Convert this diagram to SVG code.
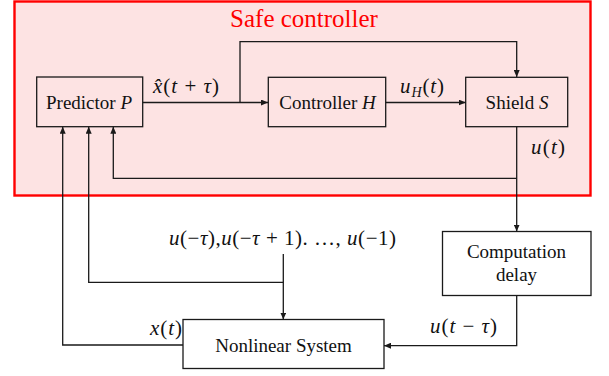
<svg xmlns="http://www.w3.org/2000/svg" width="609" height="376" viewBox="0 0 609 376">
<defs>
<style>
.box{fill:none;stroke:#1a1a1a;stroke-width:1.3}
.wbox{fill:#ffffff;stroke:#1a1a1a;stroke-width:1.3}
.ln{fill:none;stroke:#1a1a1a;stroke-width:1.3}
.t{font-family:'Liberation Serif','DejaVu Serif',serif;font-size:19px;fill:#111;text-anchor:middle}
.m{font-family:'Liberation Serif','DejaVu Serif',serif;font-size:21px;fill:#111}
.i{font-style:italic}
</style>
<marker id="ah" markerWidth="7" markerHeight="6" refX="7" refY="3" orient="auto" markerUnits="userSpaceOnUse">
<path d="M0,0 L7,3 L0,6 z" fill="#1a1a1a"/>
</marker>
</defs>
<rect width="609" height="376" fill="#ffffff"/>
<g id="safe-controller">
<rect x="14.5" y="1.5" width="576" height="194" fill="#fde3e3" stroke="#ff0000" stroke-width="2.4"/>
<text x="304" y="27" font-family="Liberation Serif, DejaVu Serif, serif" font-size="25" fill="#ff0000" text-anchor="middle">Safe controller</text>
</g>
<g id="predictor">
<rect class="box" x="36.7" y="77" width="106" height="49.7"/>
<text class="t" x="89" y="109">Predictor <tspan class="i">P</tspan></text>
</g>
<g id="controller">
<rect class="box" x="268.3" y="77.3" width="117.4" height="49.4"/>
<text class="t" x="327.5" y="109">Controller <tspan class="i">H</tspan></text>
</g>
<g id="shield">
<rect class="box" x="465.7" y="77.3" width="102" height="49.4"/>
<text class="t" x="517" y="109">Shield <tspan class="i">S</tspan></text>
</g>
<g id="computation-delay">
<rect class="wbox" x="442.5" y="231.5" width="148.5" height="64"/>
<text class="t" x="516.5" y="258">Computation</text>
<text class="t" x="516.5" y="281">delay</text>
</g>
<g id="nonlinear-system">
<rect class="wbox" x="183" y="319.5" width="201" height="49"/>
<text class="t" x="283.5" y="351.5">Nonlinear System</text>
</g>
<g id="connectors">
<path class="ln" d="M142.7,102.5 H268" marker-end="url(#ah)"/>
<path class="ln" d="M240,102.5 V41.7 H516.7 V77" marker-end="url(#ah)"/>
<path class="ln" d="M385.7,102.5 H465.7" marker-end="url(#ah)"/>
<path class="ln" d="M516.7,126.7 V231.5" marker-end="url(#ah)"/>
<path class="ln" d="M516.7,178.3 H113.3 V126.7" marker-end="url(#ah)"/>
<path class="ln" d="M516.7,295.5 V345.7 H384" marker-end="url(#ah)"/>
<path class="ln" d="M183,345 H62.7 V126.7" marker-end="url(#ah)"/>
<path class="ln" d="M283.3,254 V319.5" marker-end="url(#ah)"/>
<path class="ln" d="M283.3,282.3 H88.7 V126.7" marker-end="url(#ah)"/>
</g>
<g id="labels">
<text class="m" x="153" y="93" textLength="66" lengthAdjust="spacing"><tspan class="i">x̂</tspan>(<tspan class="i">t</tspan> + <tspan class="i">τ</tspan>)</text>
<text class="m" x="400" y="93" textLength="44" lengthAdjust="spacing"><tspan class="i">u</tspan><tspan class="i" font-size="14" dy="4">H</tspan><tspan dy="-4">(</tspan><tspan class="i">t</tspan>)</text>
<text class="m" x="531" y="154" textLength="34" lengthAdjust="spacing"><tspan class="i">u</tspan>(<tspan class="i">t</tspan>)</text>
<text class="m" x="169" y="245" textLength="227" lengthAdjust="spacing"><tspan class="i">u</tspan>(−<tspan class="i">τ</tspan>),<tspan class="i">u</tspan>(−<tspan class="i">τ</tspan> + 1). …, <tspan class="i">u</tspan>(−1)</text>
<text class="m" x="430" y="333" textLength="67" lengthAdjust="spacing"><tspan class="i">u</tspan>(<tspan class="i">t</tspan> − <tspan class="i">τ</tspan>)</text>
<text class="m" x="150" y="335" textLength="32" lengthAdjust="spacing"><tspan class="i">x</tspan>(<tspan class="i">t</tspan>)</text>
</g>
</svg>
